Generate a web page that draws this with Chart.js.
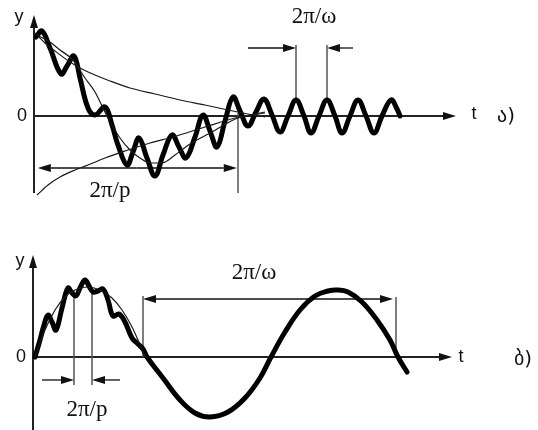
<!DOCTYPE html>
<html>
<head>
<meta charset="utf-8">
<script src="https://cdn.jsdelivr.net/npm/chart.js@4/dist/chart.umd.min.js"></script>
<style>
  html, body { margin: 0; padding: 0; background: #fff; }
  .panel { position: absolute; left: 0; width: 538px; height: 215px; }
  #panelA { top: 0; }
  #panelB { top: 215px; }
</style>
</head>
<body>
<div class="panel" id="panelA"><canvas id="chartA" width="538" height="215"></canvas></div>
<div class="panel" id="panelB"><canvas id="chartB" width="538" height="215"></canvas></div>
<script>
// ---- (a) fast oscillation riding on a slow damped swing: [t, y] ----
const waveA = [
  [0.0625, 0.9875], [0.25, 1.0625], [0.5, 0.85], [0.844, 0.525], [1.031, 0.625],
  [1.25, 0.75], [1.4375, 0.475], [1.6875, 0.1], [1.906, 0.0125], [2.219, 0.1125],
  [2.4375, -0.1125], [2.625, -0.3625], [2.906, -0.6125], [3.094, -0.45], [3.281, -0.275],
  [3.531, -0.525], [3.781, -0.75], [4.031, -0.4875], [4.3125, -0.2375], [4.531, -0.3875],
  [4.75, -0.525], [5.031, -0.2625], [5.281, 0.0125], [5.5, -0.1875], [5.719, -0.3875],
  [5.969, -0.0625], [6.219, 0.2375], [6.4375, 0.0625], [6.6875, -0.125], [6.9375, 0.05],
  [7.1875, 0.2125], [7.4375, 0.0125], [7.6875, -0.2], [7.9375, 0], [8.1875, 0.2],
  [8.4375, 0], [8.656, -0.2125], [8.906, 0], [9.156, 0.2], [9.406, 0],
  [9.625, -0.2125], [9.875, 0], [10.125, 0.2], [10.375, 0], [10.625, -0.2125],
  [10.875, 0], [11.156, 0.2], [11.344, 0.0875], [11.4375, 0]
];
// slow component (mean motion)
const meanA = [
  [0.094, 1.0125], [0.5, 0.925], [0.8125, 0.825], [1.219, 0.7], [1.594, 0.475],
  [1.906, 0.3], [2.156, 0.1], [2.375, -0.075], [2.6875, -0.275], [3.0, -0.425],
  [3.3125, -0.525], [3.625, -0.5875], [4.0, -0.5875], [4.406, -0.4875], [4.875, -0.35],
  [5.5625, -0.2], [6.375, -0.025], [7.219, 0.0375]
];
// decaying envelopes
const upperA = [
  [0.031, 1.0375], [0.344, 0.9125], [0.656, 0.8125], [1.125, 0.675], [1.5, 0.5875],
  [1.906, 0.5125], [2.375, 0.4375], [3.0, 0.35], [3.781, 0.275], [4.5625, 0.2],
  [5.344, 0.1375], [6.0625, 0.075], [6.6875, 0.025], [7.219, -0.0125]
];
const lowerA = [
  [0.094, -0.9875], [0.4375, -0.8625], [0.8125, -0.7625], [1.281, -0.675], [1.6875, -0.6125],
  [2.219, -0.525], [2.844, -0.4375], [3.625, -0.3375], [4.344, -0.2625], [5.344, -0.1375],
  [6.281, -0.025], [6.75, 0.0125], [7.219, 0.05]
];
// marked periods in (a): fast 2π/ω between two crests, slow 2π/p from t = 0
const omegaMarksA = [8.1875, 9.156];
const pSpanA = [0, 6.375];

// ---- (b) slow ripple superposed on a large oscillation: [t, y] ----
const waveB = [
  [0.08, 0], [0.28, 0.2833], [0.44, 0.5333], [0.6, 0.7], [0.76, 0.5833],
  [0.92, 0.45], [1.16, 0.8167], [1.4, 1.15], [1.56, 1.0667], [1.72, 1.0167],
  [1.88, 1.15], [2.08, 1.2833], [2.24, 1.1833], [2.4, 1.0833], [2.6, 1.1],
  [2.8, 1.1333], [3.0, 0.95], [3.2, 0.6833], [3.44, 0.7167], [3.68, 0.5833],
  [3.96, 0.3167], [4.2, 0.2167], [4.4, 0.1333], [4.56, 0], [5.2, -0.35],
  [5.88, -0.7167], [6.48, -0.9333], [7.08, -1.0], [7.8, -0.9167], [8.48, -0.6833],
  [9.08, -0.35], [9.52, 0], [10.08, 0.4167], [10.68, 0.7833], [11.28, 1.0167],
  [11.8, 1.1], [12.16, 1.1167], [12.6, 1.0833], [13.16, 0.9167], [13.76, 0.6167],
  [14.28, 0.2833], [14.6, 0], [14.96, -0.25]
];
const archB = [
  [0.08, 0], [0.48, 0.45], [0.88, 0.7833], [1.28, 1.0], [1.68, 1.1167],
  [2.16, 1.1667], [2.68, 1.1167], [3.16, 0.9833], [3.56, 0.7833], [3.92, 0.5333],
  [4.2, 0.2833], [4.48, 0]
];
const omegaSpanB = [4.4, 14.52];
const pMarksB = [1.64, 2.36];

const pts = arr => arr.map(([t, v]) => ({ x: t, y: v }));

function arrowTo(ctx, x1, y1, x2, y2) {
  const len = 13, half = 4;
  const a = Math.atan2(y2 - y1, x2 - x1);
  const bx = x2 - len * Math.cos(a), by = y2 - len * Math.sin(a);
  ctx.beginPath();
  ctx.moveTo(x1, y1);
  ctx.lineTo(bx, by);
  ctx.stroke();
  ctx.beginPath();
  ctx.moveTo(x2, y2);
  ctx.lineTo(bx + half * Math.sin(a), by - half * Math.cos(a));
  ctx.lineTo(bx - half * Math.sin(a), by + half * Math.cos(a));
  ctx.closePath();
  ctx.fill();
}

// axes, dimension lines and labels, placed through the chart's own scales
const sketchMarks = {
  id: 'sketchMarks',
  beforeDatasetsDraw(chart, args, o) {
    const ctx = chart.ctx, X = chart.scales.x, Y = chart.scales.y;
    const px = v => X.getPixelForValue(v), py = v => Y.getPixelForValue(v);
    ctx.save();
    ctx.strokeStyle = '#222';
    ctx.fillStyle = '#111';
    ctx.lineWidth = 2;
    // vertical axis and time axis
    arrowTo(ctx, px(0), py(o.axis.yLow), px(0), py(o.axis.yTip));
    arrowTo(ctx, px(0), py(0), px(o.axis.tTip), py(0));
    // dimension guide lines
    ctx.strokeStyle = '#555';
    ctx.lineWidth = 1.5;
    o.guides.forEach(g => {
      ctx.beginPath();
      ctx.moveTo(px(g.t), py(g.from));
      ctx.lineTo(px(g.t), py(g.to));
      ctx.stroke();
    });
    ctx.strokeStyle = '#111';
    ctx.lineWidth = 1.3;
    o.arrows.forEach(a => arrowTo(ctx, px(a.from), py(a.y), px(a.to), py(a.y)));
    ctx.restore();
  },
  afterDatasetsDraw(chart, args, o) {
    const ctx = chart.ctx, X = chart.scales.x, Y = chart.scales.y;
    ctx.save();
    ctx.fillStyle = '#111';
    ctx.textAlign = 'center';
    ctx.textBaseline = 'middle';
    o.labels.forEach(l => {
      ctx.font = l.font;
      ctx.fillText(l.text, X.getPixelForValue(l.t), Y.getPixelForValue(l.y));
    });
    ctx.restore();
  }
};

const serif = '23px "Liberation Serif", "DejaVu Serif", serif';
const sans = '18px "Liberation Sans", Arial, sans-serif';
const geo = '20px "DejaVu Sans", "Noto Sans", sans-serif';

function thick(data) {
  return { data: pts(data), showLine: true, borderColor: '#000', borderWidth: 5,
    pointRadius: 0, tension: 0.4, borderJoinStyle: 'round', borderCapStyle: 'round' };
}
function thin(data) {
  return { data: pts(data), showLine: true, borderColor: '#1a1a1a', borderWidth: 1.2,
    pointRadius: 0, cubicInterpolationMode: 'monotone' };
}

function baseOptions(xr, yr, marks) {
  return {
    responsive: false, animation: false, devicePixelRatio: 1,
    layout: { padding: 0 },
    plugins: { legend: { display: false }, tooltip: { enabled: false }, sketchMarks: marks },
    scales: {
      x: { type: 'linear', display: false, min: xr[0], max: xr[1] },
      y: { type: 'linear', display: false, min: yr[0], max: yr[1] }
    }
  };
}

new Chart(document.getElementById('chartA'), {
  type: 'scatter',
  data: { datasets: [thin(upperA), thin(lowerA), thin(meanA), thick(waveA)] },
  options: baseOptions([-1.0625, 15.75], [-1.2375, 1.45], {
    axis: { yLow: -0.9625, yTip: 1.2625, tTip: 13.1875 },
    guides: [
      { t: omegaMarksA[0], from: 0.2, to: 0.8875 },
      { t: omegaMarksA[1], from: 0.2, to: 0.8875 },
      { t: pSpanA[1], from: 0.0375, to: -0.9625 }
    ],
    arrows: [
      { y: 0.85, from: 6.6875, to: omegaMarksA[0] },
      { y: 0.85, from: 9.97, to: omegaMarksA[1] },
      { y: -0.65, from: 3.2, to: pSpanA[0] + 0.12 },
      { y: -0.65, from: 3.2, to: pSpanA[1] - 0.04 }
    ],
    labels: [
      { text: 'y', t: -0.47, y: 1.24, font: sans },
      { text: '0', t: -0.375, y: 0, font: sans },
      { text: 't', t: 13.75, y: 0.025, font: sans },
      { text: 'ა)', t: 14.75, y: -0.0125, font: geo },
      { text: '2π/ω', t: 8.75, y: 1.2375, font: serif },
      { text: '2π/p', t: 2.375, y: -0.9375, font: serif }
    ]
  }),
  plugins: [sketchMarks]
});

new Chart(document.getElementById('chartB'), {
  type: 'scatter',
  data: { datasets: [thin(archB), thick(waveB)] },
  options: baseOptions([-1.32, 20.2], [-1.2167, 2.3667], {
    axis: { yLow: -1.2167, yTip: 1.7, tTip: 16.76 },
    guides: [
      { t: omegaSpanB[0], from: 0, to: 1.0167 },
      { t: omegaSpanB[1], from: 0, to: 1.0 },
      { t: pMarksB[0], from: 1.1167, to: -0.4667 },
      { t: pMarksB[1], from: 1.1167, to: -0.4667 }
    ],
    arrows: [
      { y: 0.9667, from: 9.4, to: omegaSpanB[0] },
      { y: 0.9667, from: 9.4, to: omegaSpanB[1] - 0.12 },
      { y: -0.383, from: 0.36, to: pMarksB[0] },
      { y: -0.383, from: 3.48, to: pMarksB[1] }
    ],
    labels: [
      { text: 'y', t: -0.52, y: 1.6, font: sans },
      { text: '0', t: -0.48, y: 0, font: sans },
      { text: 't', t: 17.12, y: 0, font: sans },
      { text: 'ბ)', t: 19.6, y: -0.05, font: geo },
      { text: '2π/ω', t: 8.84, y: 1.4, font: serif },
      { text: '2π/p', t: 2.16, y: -0.883, font: serif }
    ]
  }),
  plugins: [sketchMarks]
});
</script>
</body>
</html>
